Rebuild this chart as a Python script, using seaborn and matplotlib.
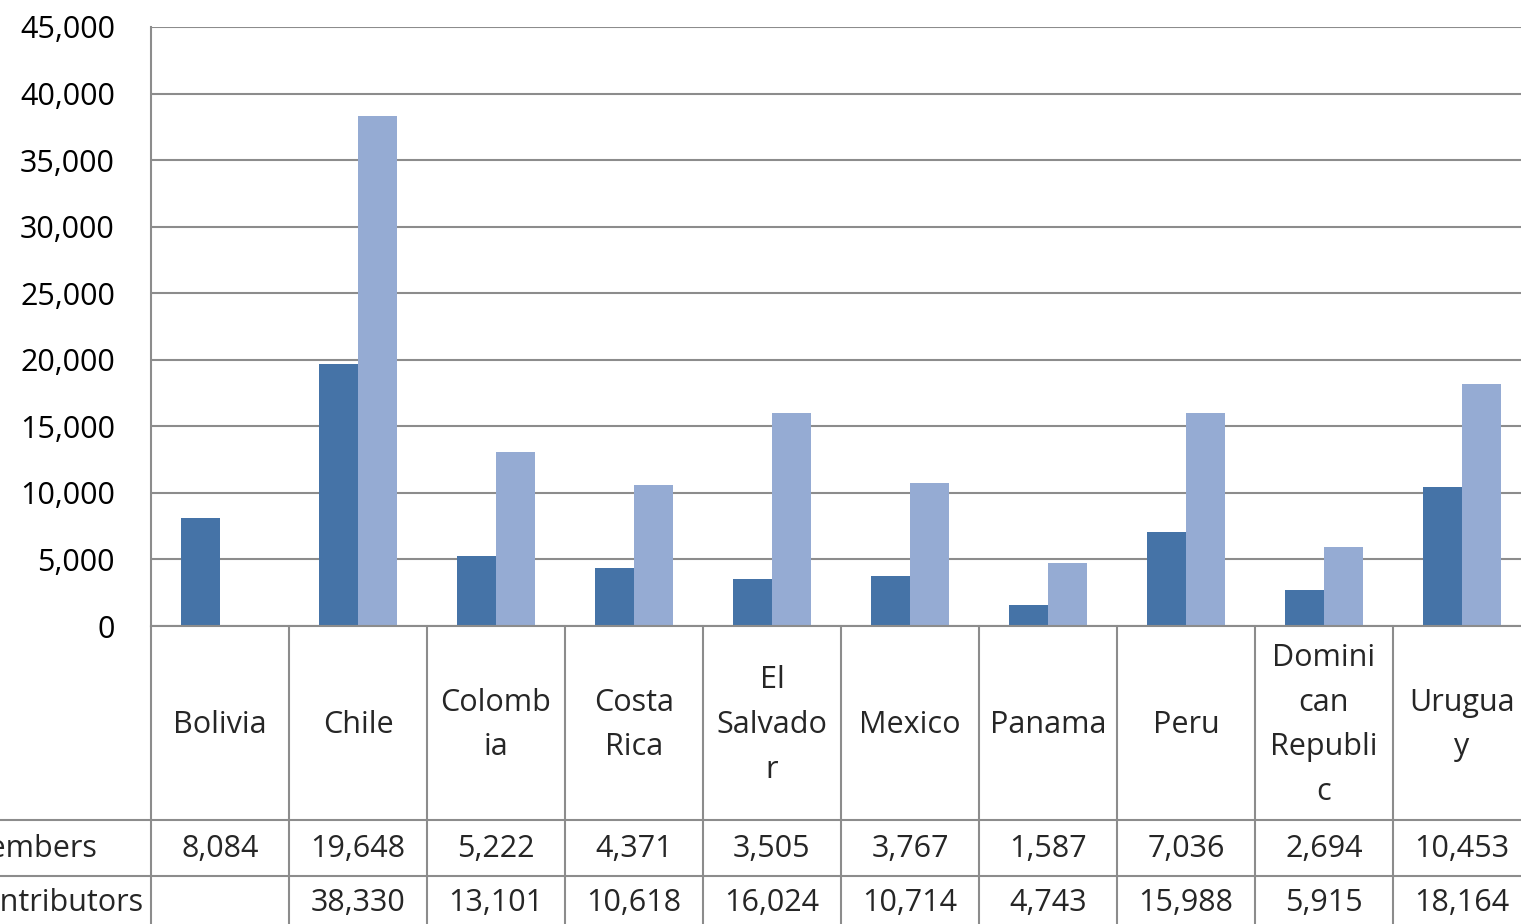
import numpy as np
import pandas as pd
import matplotlib
matplotlib.use("Agg")
import matplotlib.pyplot as plt
import matplotlib.transforms as mtransforms
from matplotlib.ticker import FuncFormatter
import seaborn as sns

# Data
countries = ["Bolivia", "Chile", "Colombia", "Costa Rica", "El Salvador",
             "Mexico", "Panama", "Peru", "Dominican Republic", "Uruguay"]
wrapped_labels = ["Bolivia", "Chile", "Colomb\nia", "Costa\nRica", "El\nSalvado\nr",
                  "Mexico", "Panama", "Peru", "Domini\ncan\nRepubli\nc", "Urugua\ny"]
members = [8084, 19648, 5222, 4371, 3505, 3767, 1587, 7036, 2694, 10453]
contributors = [np.nan, 38330, 13101, 10618, 16024, 10714, 4743, 15988, 5915, 18164]
series_names = ["Members", "Contributors"]
colors = ["#4573a7", "#95abd3"]

df = pd.DataFrame({
    "country": countries * 2,
    "series": [series_names[0]] * len(countries) + [series_names[1]] * len(countries),
    "value": members + contributors,
})

sns.set_style("white")
plt.rcParams["font.family"] = ["Open Sans", "DejaVu Sans"]

W, H = 1521, 924
fig = plt.figure(figsize=(W / 100, H / 100), dpi=100)
# plot area runs slightly past the right edge, as in the original
ax = fig.add_axes([151 / W, 1 - 626 / H, 1380 / W, (626 - 27) / H])

sns.barplot(data=df, x="country", y="value", hue="series", order=countries,
            hue_order=series_names, palette=colors, width=0.565, saturation=1,
            legend=False, ax=ax, linewidth=0)

grid_c = "#8c8c8c"
ax.set_xlim(-0.5, 9.5)
ax.set_ylim(0, 45000)
ax.set_yticks(range(0, 45001, 5000))
ax.yaxis.set_major_formatter(FuncFormatter(lambda v, p: f"{int(v):,}"))
ax.tick_params(axis="y", labelsize=22, length=0, pad=26, labelcolor="black")
ax.set_xticks([])
ax.set_xlabel("")
ax.set_ylabel("")
ax.grid(axis="y", color=grid_c, linewidth=1.5)
ax.set_axisbelow(True)
for side in ["top", "right"]:
    ax.spines[side].set_visible(False)
ax.spines["left"].set_color(grid_c)
ax.spines["left"].set_linewidth(1.5)
ax.spines["bottom"].set_color(grid_c)
ax.spines["bottom"].set_linewidth(1.5)

# Data table below the chart
tr = mtransforms.blended_transform_factory(ax.transData, fig.transFigure)
def fy(py):
    return 1 - py / H

for k in range(10):
    ax.plot([k - 0.5, k - 0.5], [fy(626), fy(H + 5)], color=grid_c, lw=1.5,
            transform=tr, clip_on=False)
for py in [820, 876]:
    fig.add_artist(plt.Line2D([0, 1], [fy(py), fy(py)], color=grid_c, lw=1.5))

for i, lab in enumerate(wrapped_labels):
    ax.text(i, fy(725), lab, transform=tr, ha="center", va="center",
            fontsize=22, linespacing=1.64, clip_on=False)
    ax.text(i, fy(849), f"{members[i]:,}", transform=tr, ha="center",
            va="center", fontsize=22, clip_on=False)
    if not np.isnan(contributors[i]):
        ax.text(i, fy(903), f"{int(contributors[i]):,}", transform=tr,
                ha="center", va="center", fontsize=22, clip_on=False)

# row labels are cut by the left edge in the original
fig.text(97 / W, fy(849), series_names[0], ha="right", va="center", fontsize=22)
fig.text(143 / W, fy(903), series_names[1], ha="right", va="center", fontsize=22)

fig.savefig("out.png", dpi=100)
